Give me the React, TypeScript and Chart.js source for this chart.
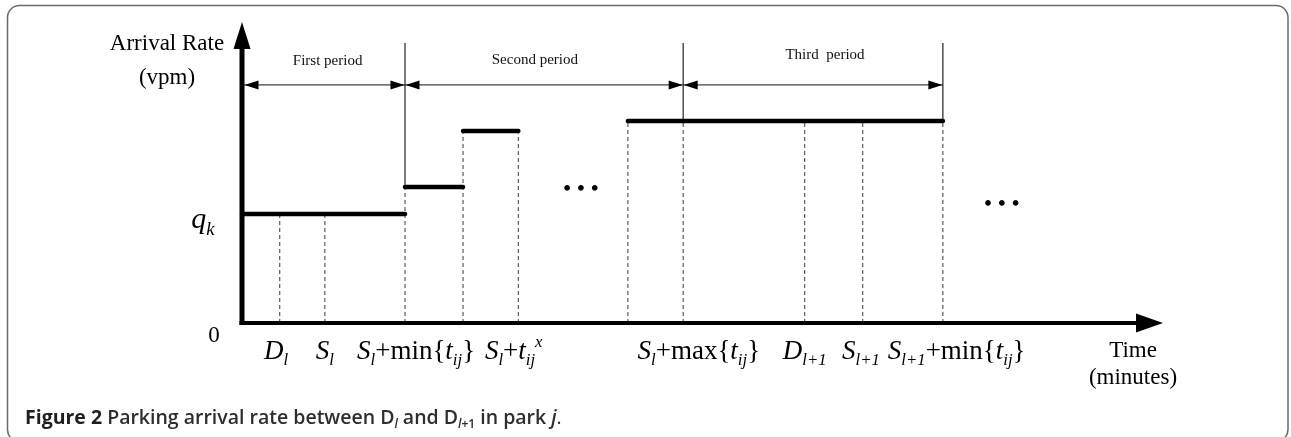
import React, { useEffect, useRef } from "react";
import { Chart, registerables } from "chart.js";

Chart.register(...registerables);

// ---- data (x: time on an arbitrary 0..100 scale, y: arrival rate on an arbitrary 0..100 scale)
const stepStart = [0, 17.7, 24.0, 41.9];
const stepEnd = [17.7, 24.0, 30.0, 76.1];
const stepLevel = [36.2, 45.2, 63.8, 67.1];
const dashedTimes = [4.1, 9.0, 17.7, 24.0, 30.0, 41.9, 47.9, 61.1, 67.4, 76.1];
const periodBounds = [0, 17.7, 47.9, 76.1];
const periodNames = ["First period", "Second period", "Third  period"];
const periodLabelX = [9.3, 31.8, 63.3];
const periodLabelY = [87.0, 87.4, 89.0];
const periodArrowY = 79.1;
const dividerTop = 93;
const dotsX = [35.3, 36.8, 38.3, 81.0, 82.5, 84.0];
const dotsY = [44.9, 44.9, 44.9, 39.9, 39.9, 39.9];
const tickLabelX = [3.7, 9.0, 18.9, 29.5, 49.6, 61.1, 67.2, 77.6];

type Seg = { t: string; it?: boolean; sub?: boolean; sup?: boolean; w?: string; c?: string };

const tickLabels: Seg[][] = [
  [{ t: "D", it: true }, { t: "l", it: true, sub: true }],
  [{ t: "S", it: true }, { t: "l", it: true, sub: true }],
  [{ t: "S", it: true }, { t: "l", it: true, sub: true }, { t: "+min{" }, { t: "t", it: true }, { t: "ij", it: true, sub: true }, { t: "}" }],
  [{ t: "S", it: true }, { t: "l", it: true, sub: true }, { t: "+" }, { t: "t", it: true }, { t: "ij", it: true, sub: true }, { t: "x", it: true, sup: true }],
  [{ t: "S", it: true }, { t: "l", it: true, sub: true }, { t: "+max{" }, { t: "t", it: true }, { t: "ij", it: true, sub: true }, { t: "}" }],
  [{ t: "D", it: true }, { t: "l+1", it: true, sub: true }],
  [{ t: "S", it: true }, { t: "l+1", it: true, sub: true }],
  [{ t: "S", it: true }, { t: "l+1", it: true, sub: true }, { t: "+min{" }, { t: "t", it: true }, { t: "ij", it: true, sub: true }, { t: "}" }],
];

const yAxisTitle = ["Arrival Rate", "(vpm)"];
const xAxisTitle = ["Time", "(minutes)"];
const levelLabel: Seg[] = [{ t: "q", it: true }, { t: "k", it: true, sub: true }];
const zeroLabel = "0";

const caption: Seg[] = [
  { t: "Figure 2", w: "700", c: "#1e1e1e" },
  { t: " Parking arrival rate between D", w: "600", c: "#2d2d2d" },
  { t: "l", it: true, sub: true, w: "600", c: "#2d2d2d" },
  { t: " and D", w: "600", c: "#2d2d2d" },
  { t: "l", it: true, sub: true, w: "600", c: "#2d2d2d" },
  { t: "+1", sub: true, w: "600", c: "#2d2d2d" },
  { t: " in park ", w: "600", c: "#2d2d2d" },
  { t: "j", it: true, w: "600", c: "#2d2d2d" },
  { t: ".", w: "400", c: "#2d2d2d" },
];

const SERIF = '"Liberation Serif", "Times New Roman", serif';
const SANS = '"Open Sans", "Noto Sans", sans-serif';

function segFont(s: Seg, size: number, family: string) {
  const sz = s.sub || s.sup ? size * 0.62 : size;
  return `${s.it ? "italic " : ""}${s.w || "normal"} ${sz}px ${family}`;
}

function richWidth(ctx: CanvasRenderingContext2D, segs: Seg[], size: number, family: string) {
  let w = 0;
  for (const s of segs) {
    ctx.font = segFont(s, size, family);
    w += ctx.measureText(s.t).width;
  }
  return w;
}

function drawRich(
  ctx: CanvasRenderingContext2D,
  segs: Seg[],
  x: number,
  y: number,
  size: number,
  family: string,
  align: "left" | "center",
  color = "#000"
) {
  const total = richWidth(ctx, segs, size, family);
  let cx = align === "center" ? x - total / 2 : x;
  ctx.textAlign = "left";
  ctx.textBaseline = "alphabetic";
  for (const s of segs) {
    ctx.font = segFont(s, size, family);
    ctx.fillStyle = s.c || color;
    let dy = 0;
    if (s.sub) dy = size * 0.22;
    if (s.sup) dy = -size * 0.45;
    ctx.fillText(s.t, cx, y + dy);
    cx += ctx.measureText(s.t).width;
  }
}

function topLevelAt(x: number) {
  let m = 0;
  for (let i = 0; i < stepLevel.length; i++) {
    if (stepStart[i] <= x + 1e-6 && stepEnd[i] >= x - 1e-6) m = Math.max(m, stepLevel[i]);
  }
  return m;
}

function tri(ctx: CanvasRenderingContext2D, pts: number[][]) {
  ctx.beginPath();
  ctx.moveTo(pts[0][0], pts[0][1]);
  ctx.lineTo(pts[1][0], pts[1][1]);
  ctx.lineTo(pts[2][0], pts[2][1]);
  ctx.closePath();
  ctx.fill();
}

const diagramPlugin = {
  id: "diagram",
  beforeDraw(chart: any) {
    const ctx: CanvasRenderingContext2D = chart.ctx;
    ctx.save();
    ctx.fillStyle = "#fff";
    ctx.fillRect(0, 0, chart.width, chart.height);
    ctx.strokeStyle = "#6a6a6a";
    ctx.lineWidth = 1.5;
    ctx.beginPath();
    (ctx as any).roundRect(7.5, 5.5, chart.width - 10.5, chart.height - 1, 12);
    ctx.stroke();
    ctx.restore();
  },
  afterDatasetsDraw(chart: any) {
    const ctx: CanvasRenderingContext2D = chart.ctx;
    const xs = chart.scales.x;
    const ys = chart.scales.y;
    const X = (v: number) => xs.getPixelForValue(v);
    const Y = (v: number) => ys.getPixelForValue(v);
    ctx.save();
    ctx.fillStyle = "#000";
    ctx.strokeStyle = "#000";

    // axes
    const x0 = X(0), y0 = Y(0), yTop = Y(100), xEnd = X(100);
    ctx.lineWidth = 5;
    ctx.beginPath();
    ctx.moveTo(x0, y0 + 2);
    ctx.lineTo(x0, yTop + 24);
    ctx.stroke();
    ctx.lineWidth = 4;
    ctx.beginPath();
    ctx.moveTo(x0 - 2.5, y0);
    ctx.lineTo(xEnd - 24, y0);
    ctx.stroke();
    tri(ctx, [[x0, yTop], [x0 - 8.5, yTop + 27], [x0 + 8.5, yTop + 27]]);
    tri(ctx, [[xEnd, y0], [xEnd - 27, y0 - 9.5], [xEnd - 27, y0 + 9.5]]);

    // period arrowheads
    const ay = Y(periodArrowY);
    for (let i = 0; i < periodBounds.length - 1; i++) {
      const a = X(periodBounds[i]) + (i === 0 ? 2.5 : 0.5);
      const b = X(periodBounds[i + 1]) - 0.5;
      tri(ctx, [[a, ay], [a + 14, ay - 4.5], [a + 14, ay + 4.5]]);
      tri(ctx, [[b, ay], [b - 14, ay - 4.5], [b - 14, ay + 4.5]]);
    }

    // period labels
    ctx.fillStyle = "#111";
    ctx.font = `15px ${SERIF}`;
    ctx.textAlign = "center";
    ctx.textBaseline = "middle";
    periodNames.forEach((n, i) => ctx.fillText(n, X(periodLabelX[i]), Y(periodLabelY[i])));

    // axis titles
    ctx.fillStyle = "#000";
    ctx.font = `23px ${SERIF}`;
    ctx.fillText(yAxisTitle[0], x0 - 75, yTop + 22);
    ctx.fillText(yAxisTitle[1], x0 - 75, yTop + 56);
    ctx.fillText(xAxisTitle[0], xEnd - 30, y0 + 28);
    ctx.fillText(xAxisTitle[1], xEnd - 30, y0 + 55);

    // zero and q_k
    ctx.font = `23px ${SERIF}`;
    ctx.fillText(zeroLabel, x0 - 28, y0 + 13);
    drawRich(ctx, levelLabel, x0 - 39, Y(stepLevel[0]) + 14, 30, SERIF, "center");

    // tick labels
    tickLabels.forEach((segs, i) => {
      drawRich(ctx, segs, X(tickLabelX[i]), y0 + 36, 27, SERIF, "center");
    });

    // caption
    drawRich(ctx, caption, 25, chart.height - 13, 19.5, SANS, "left");
    ctx.restore();
  },
};

function buildDatasets() {
  const ds: any[] = [];
  // step levels
  for (let i = 0; i < stepLevel.length; i++) {
    ds.push({
      data: [
        { x: stepStart[i], y: stepLevel[i] },
        { x: stepEnd[i], y: stepLevel[i] },
      ],
      borderColor: "#000",
      borderWidth: 4.5,
      borderCapStyle: "round",
      pointRadius: 0,
      order: 0,
    });
  }
  // dashed drop lines
  dashedTimes.forEach((t) => {
    ds.push({
      data: [
        { x: t, y: 0 },
        { x: t, y: topLevelAt(t) },
      ],
      borderColor: "#3a3a3a",
      borderWidth: 1,
      borderDash: [4, 3],
      pointRadius: 0,
      order: 2,
    });
  });
  // solid period dividers
  periodBounds.slice(1).forEach((t) => {
    ds.push({
      data: [
        { x: t, y: topLevelAt(t) },
        { x: t, y: dividerTop },
      ],
      borderColor: "#222",
      borderWidth: 1.2,
      pointRadius: 0,
      order: 2,
    });
  });
  // period double arrows (shafts)
  for (let i = 0; i < periodBounds.length - 1; i++) {
    ds.push({
      data: [
        { x: periodBounds[i], y: periodArrowY },
        { x: periodBounds[i + 1], y: periodArrowY },
      ],
      borderColor: "#111",
      borderWidth: 1,
      pointRadius: 0,
      order: 2,
    });
  }
  // ellipsis dots
  ds.push({
    type: "scatter",
    data: dotsX.map((x, i) => ({ x, y: dotsY[i] })),
    backgroundColor: "#000",
    borderColor: "#000",
    pointRadius: 2.4,
    showLine: false,
    order: 0,
  });
  return ds;
}

export default function App() {
  const ref = useRef<HTMLCanvasElement>(null);
  useEffect(() => {
    const canvas = ref.current;
    if (!canvas) return;
    const chart = new Chart(canvas, {
      type: "line",
      data: { datasets: buildDatasets() },
      options: {
        animation: false,
        responsive: false,
        events: [],
        layout: { padding: { left: 242, right: 128, top: 22, bottom: 114 } },
        datasets: { line: { clip: false } as any, scatter: { clip: false } as any },
        plugins: { legend: { display: false }, tooltip: { enabled: false } },
        scales: {
          x: { type: "linear", min: 0, max: 100, display: false },
          y: { type: "linear", min: 0, max: 100, display: false },
        },
      } as any,
      plugins: [diagramPlugin],
    });
    return () => chart.destroy();
  }, []);
  return (
    <canvas
      ref={ref}
      width={1291}
      height={437}
      style={{ position: "fixed", left: 0, top: 0, width: 1291, height: 437 }}
    />
  );
}
